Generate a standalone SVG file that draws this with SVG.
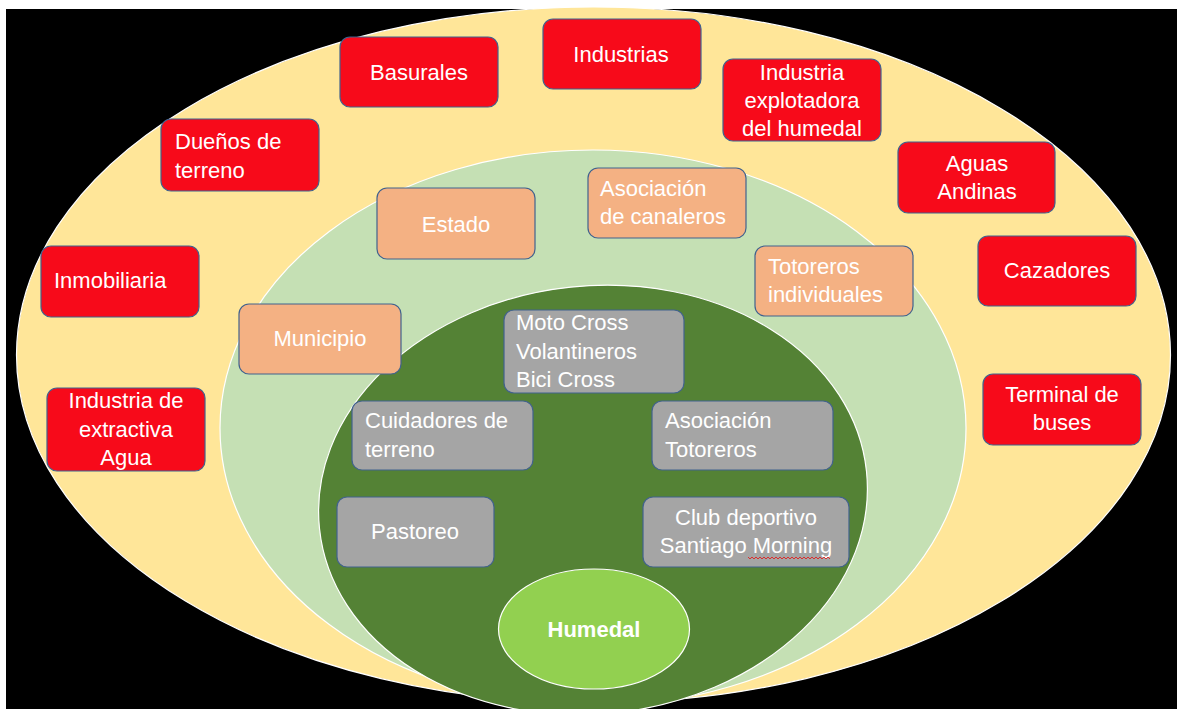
<svg xmlns="http://www.w3.org/2000/svg" width="1177" height="709" viewBox="0 0 1177 709">
<style>
.t{font-family:"Liberation Sans",Arial,sans-serif;font-size:22px;fill:#ffffff}
.c{text-anchor:middle}
.red{fill:#F70A1A;stroke:#41628E;stroke-width:1.2}
.ora{fill:#F4B183;stroke:#41628E;stroke-width:1.2}
.gry{fill:#A5A5A5;stroke:#41628E;stroke-width:1.2}
.ring{stroke:#ffffff;stroke-width:1.2}
</style>
<rect x="0" y="0" width="1177" height="709" fill="#ffffff"/>
<rect x="6" y="9" width="1171" height="700" fill="#000000"/>
<g id="rings">
<ellipse class="ring" cx="593.5" cy="355" rx="577" ry="348" fill="#FFE699"/>
<ellipse class="ring" cx="593" cy="428" rx="373" ry="278" fill="#C5E0B4"/>
<ellipse class="ring" cx="593" cy="500" rx="275" ry="214" fill="#548235" transform="rotate(-6 593 500)"/>
</g>
<g id="connectors"></g>
<g id="humedal">
<ellipse cx="594" cy="629" rx="95.5" ry="60" fill="#92D050" stroke="#ffffff" stroke-width="1.2"/>
<text class="t c" x="594" y="637" font-weight="bold" font-size="21">Humedal</text>
</g>
<g id="basurales"><rect class="red" x="340" y="37" width="158" height="70" rx="10"/><text class="t c" x="419" y="80">Basurales</text></g>
<g id="industrias"><rect class="red" x="543" y="19" width="158" height="70" rx="10"/><text class="t c" x="621" y="62">Industrias</text></g>
<g id="industria-explotadora"><rect class="red" x="723" y="59" width="158" height="82" rx="10"/><text class="t c" x="802" y="80">Industria</text><text class="t c" x="802" y="108">explotadora</text><text class="t c" x="802" y="136">del humedal</text></g>
<g id="duenos"><rect class="red" x="161" y="119" width="158" height="72" rx="10"/><text class="t" x="175" y="149">Dueños de</text><text class="t" x="175" y="178">terreno</text></g>
<g id="aguas-andinas"><rect class="red" x="898" y="142" width="157" height="71" rx="10"/><text class="t c" x="977" y="171">Aguas</text><text class="t c" x="977" y="199">Andinas</text></g>
<g id="inmobiliaria"><rect class="red" x="41" y="246" width="158" height="71" rx="10"/><text class="t" x="54" y="288">Inmobiliaria</text></g>
<g id="industria-extractiva"><rect class="red" x="47" y="388" width="158" height="83" rx="10"/><text class="t c" x="126" y="408">Industria de</text><text class="t c" x="126" y="437">extractiva</text><text class="t c" x="126" y="465">Agua</text></g>
<g id="cazadores"><rect class="red" x="978" y="236" width="158" height="70" rx="10"/><text class="t c" x="1057" y="278">Cazadores</text></g>
<g id="terminal"><rect class="red" x="983" y="374" width="158" height="71" rx="10"/><text class="t c" x="1062" y="402">Terminal de</text><text class="t c" x="1062" y="430">buses</text></g>
<g id="estado"><rect class="ora" x="377" y="188" width="158" height="71" rx="10"/><text class="t c" x="456" y="232">Estado</text></g>
<g id="asociacion-canaleros"><rect class="ora" x="588" y="168" width="158" height="70" rx="10"/><text class="t" x="600" y="196">Asociación</text><text class="t" x="600" y="224">de canaleros</text></g>
<g id="totoreros-individuales"><rect class="ora" x="755" y="246" width="158" height="70" rx="10"/><text class="t" x="768" y="274">Totoreros</text><text class="t" x="768" y="302">individuales</text></g>
<g id="municipio"><rect class="ora" x="239" y="304" width="162" height="70" rx="10"/><text class="t c" x="320" y="346">Municipio</text></g>
<g id="moto-cross"><rect class="gry" x="504" y="310" width="180" height="83" rx="10"/><text class="t" x="516" y="330">Moto Cross</text><text class="t" x="516" y="359">Volantineros</text><text class="t" x="516" y="387">Bici Cross</text></g>
<g id="cuidadores"><rect class="gry" x="352" y="401" width="181" height="69" rx="10"/><text class="t" x="365" y="428">Cuidadores de</text><text class="t" x="365" y="457">terreno</text></g>
<g id="asociacion-totoreros"><rect class="gry" x="652" y="401" width="181" height="69" rx="10"/><text class="t" x="665" y="428">Asociación</text><text class="t" x="665" y="457">Totoreros</text></g>
<g id="pastoreo"><rect class="gry" x="337" y="497" width="157" height="70" rx="10"/><text class="t c" x="415" y="539">Pastoreo</text></g>
<g id="club-deportivo"><rect class="gry" x="643" y="497" width="206" height="70" rx="10"/><text class="t c" x="746" y="525">Club deportivo</text><text class="t c" x="746" y="553">Santiago Morning</text>
<path d="M748 557 l2 2 l2 -2 l2 2 l2 -2 l2 2 l2 -2 l2 2 l2 -2 l2 2 l2 -2 l2 2 l2 -2 l2 2 l2 -2 l2 2 l2 -2 l2 2 l2 -2 l2 2 l2 -2 l2 2 l2 -2 l2 2 l2 -2 l2 2 l2 -2 l2 2 l2 -2 l2 2 l2 -2 l2 2 l2 -2 l2 2 l2 -2 l2 2 l2 -2 l2 2 l2 -2 l2 2 l2 -2 l2 2" fill="none" stroke="#E02020" stroke-width="0.9"/></g>
</svg>
